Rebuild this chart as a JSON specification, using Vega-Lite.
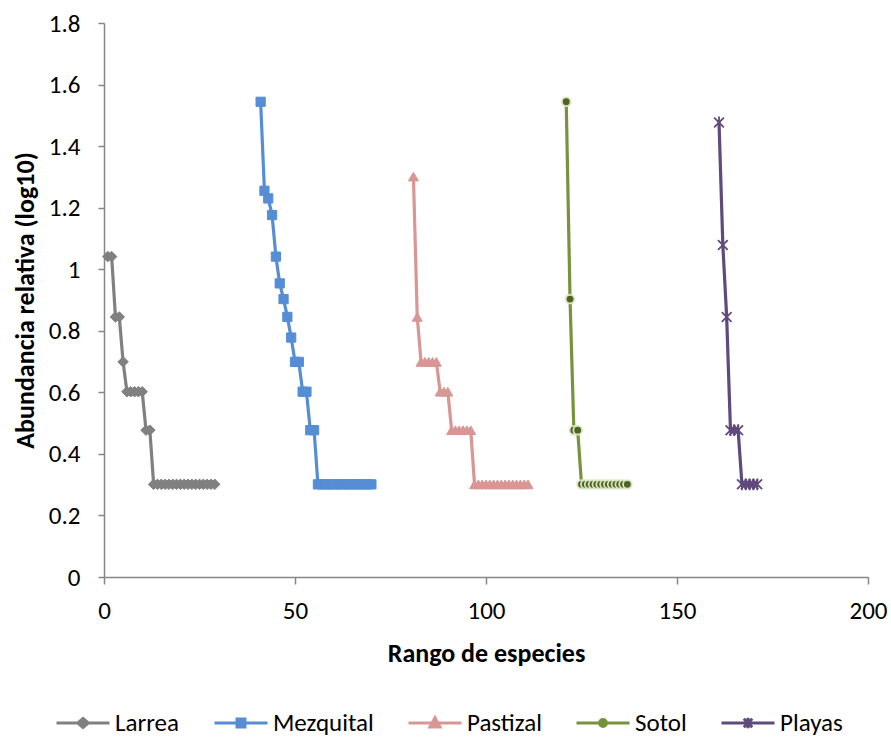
{
  "$schema": "https://vega.github.io/schema/vega-lite/v6.json",
  "width": 764,
  "height": 554,
  "autosize": {"type": "none"},
  "padding": {"left": 104, "top": 23, "right": 23, "bottom": 161},
  "background": "white",
  "config": {
    "font": "Carlito, Calibri, Lato, sans-serif",
    "view": {"stroke": null},
    "axis": {
      "grid": false,
      "domainColor": "#868686",
      "tickColor": "#868686",
      "domainWidth": 1.5,
      "tickWidth": 1.5,
      "labelColor": "#000000",
      "titleColor": "#000000",
      "labelFontSize": 25,
      "titleFontSize": 26,
      "titleFontWeight": "bold"
    }
  },
  "data": {
    "values": [
      {"serie": "Larrea", "rango": 1, "abund": 1.041},
      {"serie": "Larrea", "rango": 2, "abund": 1.041},
      {"serie": "Larrea", "rango": 3, "abund": 0.845},
      {"serie": "Larrea", "rango": 4, "abund": 0.845},
      {"serie": "Larrea", "rango": 5, "abund": 0.699},
      {"serie": "Larrea", "rango": 6, "abund": 0.602},
      {"serie": "Larrea", "rango": 7, "abund": 0.602},
      {"serie": "Larrea", "rango": 8, "abund": 0.602},
      {"serie": "Larrea", "rango": 9, "abund": 0.602},
      {"serie": "Larrea", "rango": 10, "abund": 0.602},
      {"serie": "Larrea", "rango": 11, "abund": 0.477},
      {"serie": "Larrea", "rango": 12, "abund": 0.477},
      {"serie": "Larrea", "rango": 13, "abund": 0.301},
      {"serie": "Larrea", "rango": 14, "abund": 0.301},
      {"serie": "Larrea", "rango": 15, "abund": 0.301},
      {"serie": "Larrea", "rango": 16, "abund": 0.301},
      {"serie": "Larrea", "rango": 17, "abund": 0.301},
      {"serie": "Larrea", "rango": 18, "abund": 0.301},
      {"serie": "Larrea", "rango": 19, "abund": 0.301},
      {"serie": "Larrea", "rango": 20, "abund": 0.301},
      {"serie": "Larrea", "rango": 21, "abund": 0.301},
      {"serie": "Larrea", "rango": 22, "abund": 0.301},
      {"serie": "Larrea", "rango": 23, "abund": 0.301},
      {"serie": "Larrea", "rango": 24, "abund": 0.301},
      {"serie": "Larrea", "rango": 25, "abund": 0.301},
      {"serie": "Larrea", "rango": 26, "abund": 0.301},
      {"serie": "Larrea", "rango": 27, "abund": 0.301},
      {"serie": "Larrea", "rango": 28, "abund": 0.301},
      {"serie": "Larrea", "rango": 29, "abund": 0.301},
      {"serie": "Mezquital", "rango": 41, "abund": 1.544},
      {"serie": "Mezquital", "rango": 42, "abund": 1.255},
      {"serie": "Mezquital", "rango": 43, "abund": 1.230},
      {"serie": "Mezquital", "rango": 44, "abund": 1.176},
      {"serie": "Mezquital", "rango": 45, "abund": 1.041},
      {"serie": "Mezquital", "rango": 46, "abund": 0.954},
      {"serie": "Mezquital", "rango": 47, "abund": 0.903},
      {"serie": "Mezquital", "rango": 48, "abund": 0.845},
      {"serie": "Mezquital", "rango": 49, "abund": 0.778},
      {"serie": "Mezquital", "rango": 50, "abund": 0.699},
      {"serie": "Mezquital", "rango": 51, "abund": 0.699},
      {"serie": "Mezquital", "rango": 52, "abund": 0.602},
      {"serie": "Mezquital", "rango": 53, "abund": 0.602},
      {"serie": "Mezquital", "rango": 54, "abund": 0.477},
      {"serie": "Mezquital", "rango": 55, "abund": 0.477},
      {"serie": "Mezquital", "rango": 56, "abund": 0.301},
      {"serie": "Mezquital", "rango": 57, "abund": 0.301},
      {"serie": "Mezquital", "rango": 58, "abund": 0.301},
      {"serie": "Mezquital", "rango": 59, "abund": 0.301},
      {"serie": "Mezquital", "rango": 60, "abund": 0.301},
      {"serie": "Mezquital", "rango": 61, "abund": 0.301},
      {"serie": "Mezquital", "rango": 62, "abund": 0.301},
      {"serie": "Mezquital", "rango": 63, "abund": 0.301},
      {"serie": "Mezquital", "rango": 64, "abund": 0.301},
      {"serie": "Mezquital", "rango": 65, "abund": 0.301},
      {"serie": "Mezquital", "rango": 66, "abund": 0.301},
      {"serie": "Mezquital", "rango": 67, "abund": 0.301},
      {"serie": "Mezquital", "rango": 68, "abund": 0.301},
      {"serie": "Mezquital", "rango": 69, "abund": 0.301},
      {"serie": "Mezquital", "rango": 70, "abund": 0.301},
      {"serie": "Pastizal", "rango": 81, "abund": 1.301},
      {"serie": "Pastizal", "rango": 82, "abund": 0.845},
      {"serie": "Pastizal", "rango": 83, "abund": 0.699},
      {"serie": "Pastizal", "rango": 84, "abund": 0.699},
      {"serie": "Pastizal", "rango": 85, "abund": 0.699},
      {"serie": "Pastizal", "rango": 86, "abund": 0.699},
      {"serie": "Pastizal", "rango": 87, "abund": 0.699},
      {"serie": "Pastizal", "rango": 88, "abund": 0.602},
      {"serie": "Pastizal", "rango": 89, "abund": 0.602},
      {"serie": "Pastizal", "rango": 90, "abund": 0.602},
      {"serie": "Pastizal", "rango": 91, "abund": 0.477},
      {"serie": "Pastizal", "rango": 92, "abund": 0.477},
      {"serie": "Pastizal", "rango": 93, "abund": 0.477},
      {"serie": "Pastizal", "rango": 94, "abund": 0.477},
      {"serie": "Pastizal", "rango": 95, "abund": 0.477},
      {"serie": "Pastizal", "rango": 96, "abund": 0.477},
      {"serie": "Pastizal", "rango": 97, "abund": 0.301},
      {"serie": "Pastizal", "rango": 98, "abund": 0.301},
      {"serie": "Pastizal", "rango": 99, "abund": 0.301},
      {"serie": "Pastizal", "rango": 100, "abund": 0.301},
      {"serie": "Pastizal", "rango": 101, "abund": 0.301},
      {"serie": "Pastizal", "rango": 102, "abund": 0.301},
      {"serie": "Pastizal", "rango": 103, "abund": 0.301},
      {"serie": "Pastizal", "rango": 104, "abund": 0.301},
      {"serie": "Pastizal", "rango": 105, "abund": 0.301},
      {"serie": "Pastizal", "rango": 106, "abund": 0.301},
      {"serie": "Pastizal", "rango": 107, "abund": 0.301},
      {"serie": "Pastizal", "rango": 108, "abund": 0.301},
      {"serie": "Pastizal", "rango": 109, "abund": 0.301},
      {"serie": "Pastizal", "rango": 110, "abund": 0.301},
      {"serie": "Pastizal", "rango": 111, "abund": 0.301},
      {"serie": "Sotol", "rango": 121, "abund": 1.544},
      {"serie": "Sotol", "rango": 122, "abund": 0.903},
      {"serie": "Sotol", "rango": 123, "abund": 0.477},
      {"serie": "Sotol", "rango": 124, "abund": 0.477},
      {"serie": "Sotol", "rango": 125, "abund": 0.301},
      {"serie": "Sotol", "rango": 126, "abund": 0.301},
      {"serie": "Sotol", "rango": 127, "abund": 0.301},
      {"serie": "Sotol", "rango": 128, "abund": 0.301},
      {"serie": "Sotol", "rango": 129, "abund": 0.301},
      {"serie": "Sotol", "rango": 130, "abund": 0.301},
      {"serie": "Sotol", "rango": 131, "abund": 0.301},
      {"serie": "Sotol", "rango": 132, "abund": 0.301},
      {"serie": "Sotol", "rango": 133, "abund": 0.301},
      {"serie": "Sotol", "rango": 134, "abund": 0.301},
      {"serie": "Sotol", "rango": 135, "abund": 0.301},
      {"serie": "Sotol", "rango": 136, "abund": 0.301},
      {"serie": "Sotol", "rango": 137, "abund": 0.301},
      {"serie": "Playas", "rango": 161, "abund": 1.477},
      {"serie": "Playas", "rango": 162, "abund": 1.079},
      {"serie": "Playas", "rango": 163, "abund": 0.845},
      {"serie": "Playas", "rango": 164, "abund": 0.477},
      {"serie": "Playas", "rango": 165, "abund": 0.477},
      {"serie": "Playas", "rango": 166, "abund": 0.477},
      {"serie": "Playas", "rango": 167, "abund": 0.301},
      {"serie": "Playas", "rango": 168, "abund": 0.301},
      {"serie": "Playas", "rango": 169, "abund": 0.301},
      {"serie": "Playas", "rango": 170, "abund": 0.301},
      {"serie": "Playas", "rango": 171, "abund": 0.301}
    ]
  },
  "encoding": {
    "x": {
      "field": "rango", "type": "quantitative",
      "scale": {"domain": [0, 200], "nice": false, "zero": false},
      "axis": {
        "title": "Rango de especies",
        "values": [0, 50, 100, 150, 200],
        "tickSize": 7,
        "labelPadding": 14,
        "titlePadding": 17,
        "labelFlush": false
      }
    },
    "y": {
      "field": "abund", "type": "quantitative",
      "scale": {"domain": [0, 1.8], "nice": false},
      "axis": {
        "title": "Abundancia relativa (log10)",
        "values": [0, 0.2, 0.4, 0.6, 0.8, 1, 1.2, 1.4, 1.6, 1.8],
        "format": ".2~f",
        "tickSize": 6,
        "labelPadding": 18,
        "titlePadding": 10,
        "labelFlush": false
      }
    }
  },
  "layer": [
    {
      "mark": {"type": "line", "strokeWidth": 3.2},
      "encoding": {
        "color": {
          "field": "serie", "type": "nominal",
          "scale": {
            "domain": ["Larrea", "Mezquital", "Pastizal", "Sotol", "Playas"],
            "range": ["#808080", "#558ED5", "#D99694", "#77933C", "#604A7B"]
          },
          "legend": {
            "title": null,
            "orient": "none",
            "direction": "horizontal",
            "legendX": -49,
            "legendY": 672,
            "labelFontSize": 25,
            "labelColor": "#000000",
            "symbolSize": 2809,
            "labelOffset": 4,
            "columnPadding": 28,
            "encode": {
              "symbols": {
                "update": {
                  "shape": {"signal": "datum.value === 'Larrea' ? 'M-1,0L1,0M0,-0.17L0.2,0L0,0.17L-0.2,0Z' : datum.value === 'Mezquital' ? 'M-1,0L1,0M-0.15,-0.15L0.15,-0.15L0.15,0.15L-0.15,0.15Z' : datum.value === 'Pastizal' ? 'M-1,0L1,0M0,-0.2L0.19,0.15L-0.19,0.15Z' : datum.value === 'Sotol' ? 'M-1,0L1,0M-0.13,0A0.13,0.13 0 1,0 0.13,0A0.13,0.13 0 1,0 -0.13,0Z' : 'M-1,0L1,0M-0.16,-0.16L0.16,0.16M-0.16,0.16L0.16,-0.16M0,-0.2L0,0.2'"},
                  "fill": {"signal": "datum.value === 'Larrea' ? '#808080' : datum.value === 'Mezquital' ? '#558ED5' : datum.value === 'Pastizal' ? '#D99694' : datum.value === 'Sotol' ? '#4F6228' : 'transparent'"},
                  "stroke": {"signal": "scale('color', datum.value)"},
                  "strokeWidth": {"value": 3},
                  "opacity": {"value": 1}
                }
              }
            }
          }
        }
      }
    },
    {
      "transform": [{"filter": "datum.serie === 'Larrea'"}],
      "mark": {"type": "point", "shape": "diamond", "filled": true, "fill": "#808080", "stroke": "#808080", "strokeWidth": 1, "size": 110, "opacity": 1}
    },
    {
      "transform": [{"filter": "datum.serie === 'Mezquital'"}],
      "mark": {"type": "point", "shape": "square", "filled": true, "fill": "#558ED5", "stroke": "#558ED5", "strokeWidth": 1, "size": 85, "opacity": 1}
    },
    {
      "transform": [{"filter": "datum.serie === 'Pastizal'"}],
      "mark": {"type": "point", "shape": "triangle-up", "filled": true, "fill": "#D99694", "stroke": "#D99694", "strokeWidth": 1, "size": 100, "opacity": 1}
    },
    {
      "transform": [{"filter": "datum.serie === 'Sotol'"}],
      "mark": {"type": "point", "shape": "circle", "filled": true, "fill": "#4F6228", "stroke": "#D7E4BD", "strokeWidth": 1.8, "size": 75, "opacity": 1}
    },
    {
      "transform": [{"filter": "datum.serie === 'Playas'"}],
      "mark": {"type": "point", "shape": "M-1,-1L1,1M-1,1L1,-1M0,-1.2L0,1.2", "filled": false, "stroke": "#604A7B", "strokeWidth": 1.8, "size": 95, "opacity": 1}
    }
  ]
}
